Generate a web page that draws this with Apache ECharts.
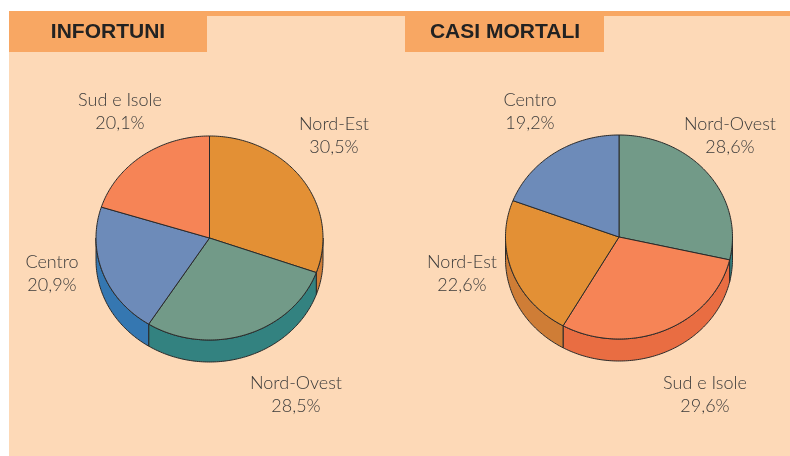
<!DOCTYPE html>
<html>
<head>
<meta charset="utf-8">
<script src="https://cdn.jsdelivr.net/npm/echarts@6/dist/echarts.min.js"></script>
<style>
  html, body { margin: 0; padding: 0; background: #fff; }
  #chart { width: 790px; height: 456px; }
</style>
</head>
<body>
<div id="chart"></div>
<script>
// data
var infortuniCats = ['Nord-Est', 'Nord-Ovest', 'Centro', 'Sud e Isole'];
var infortuniValues = [30.5, 28.5, 20.9, 20.1];

var mortaliCats = ['Nord-Ovest', 'Sud e Isole', 'Nord-Est', 'Centro'];
var mortaliValues = [28.6, 29.6, 22.6, 19.2];

// colours per region: top face, side
var topColor = {
    'Nord-Est': '#e39035',
    'Nord-Ovest': '#729a88',
    'Centro': '#6d8bb9',
    'Sud e Isole': '#f68456'
};
var sideColor = {
    'Nord-Est': '#cf7d36',
    'Nord-Ovest': '#338280',
    'Centro': '#3577b1',
    'Sud e Isole': '#e96d42'
};

// label anchors (layout)
var infortuniLabels = {
    'Nord-Est': [334, 136],
    'Nord-Ovest': [296, 395],
    'Centro': [52, 274],
    'Sud e Isole': [120, 112]
};
var mortaliLabels = {
    'Nord-Ovest': [730, 136],
    'Sud e Isole': [705, 395],
    'Nord-Est': [462, 274],
    'Centro': [530, 112]
};

var chart = echarts.init(document.getElementById('chart'));

var RX = 113.5, RY = 102, DEPTH = 22;
var STROKE = '#2a2a2a';
var labelFont = '"Lato", "Noto Sans", sans-serif';

function fmt(v) {
    return v.toFixed(1).replace('.', ',') + '%';
}

function pieSeries(cats, values, cx, cy, labels) {
    var total = values.reduce(function (a, b) { return a + b; }, 0);

    function pt(t, dy) {
        return [cx + RX * Math.sin(t), cy - RY * Math.cos(t) + (dy || 0)];
    }

    function arc(a, b, dy) {
        var pts = [];
        var n = Math.max(2, Math.ceil((b - a) / (Math.PI / 180)));
        for (var i = 0; i <= n; i++) {
            pts.push(pt(a + (b - a) * i / n, dy));
        }
        return pts;
    }

    return {
        type: 'custom',
        coordinateSystem: 'none',
        data: values.map(function (v, i) {
            return { value: [v], name: cats[i] };
        }),
        renderItem: function (params, api) {
            var idx = params.dataIndex;
            var before = 0;
            for (var i = 0; i < idx; i++) before += values[i];
            var t0 = before / total * Math.PI * 2;
            var t1 = (before + values[idx]) / total * Math.PI * 2;
            var name = cats[idx];
            var children = [];

            // visible side wall (front half of the ellipse)
            var a = Math.max(t0, Math.PI / 2);
            var b = Math.min(t1, Math.PI * 1.5);
            if (a < b) {
                var side = arc(a, b, 0).concat(arc(a, b, DEPTH).reverse());
                children.push({
                    type: 'polygon',
                    shape: { points: side },
                    style: { fill: sideColor[name], stroke: STROKE, lineWidth: 1 }
                });
            }

            // top face
            var top = [[cx, cy]].concat(arc(t0, t1, 0));
            children.push({
                type: 'polygon',
                shape: { points: top },
                style: { fill: topColor[name], stroke: STROKE, lineWidth: 1 }
            });

            var lp = labels[name];
            children.push({
                type: 'text',
                x: lp[0],
                y: lp[1],
                style: {
                    text: name + '\n' + fmt(api.value(0)),
                    fill: '#3a3a3a',
                    font: '300 18px ' + labelFont,
                    lineHeight: 23,
                    align: 'center',
                    verticalAlign: 'middle'
                }
            });

            return { type: 'group', children: children };
        }
    };
}

var option = {
    backgroundColor: '#ffffff',
    animation: false,
    graphic: [
        { type: 'rect', z: 0, shape: { x: 9, y: 11, width: 781, height: 445 }, style: { fill: '#fdd9b7' } },
        { type: 'rect', z: 1, shape: { x: 9, y: 11, width: 781, height: 5 }, style: { fill: '#f8a763' } },
        { type: 'rect', z: 1, shape: { x: 9, y: 11, width: 198, height: 41 }, style: { fill: '#f8a763' } },
        { type: 'rect', z: 1, shape: { x: 405, y: 11, width: 199, height: 41 }, style: { fill: '#f8a763' } },
        {
            type: 'text', z: 2, x: 108, y: 32,
            style: { text: 'INFORTUNI', fill: '#222', font: 'bold 21px "Liberation Sans", Arial, sans-serif', align: 'center', verticalAlign: 'middle' }
        },
        {
            type: 'text', z: 2, x: 505, y: 32,
            style: { text: 'CASI MORTALI', fill: '#222', font: 'bold 21px "Liberation Sans", Arial, sans-serif', align: 'center', verticalAlign: 'middle' }
        }
    ],
    series: [
        pieSeries(infortuniCats, infortuniValues, 209.5, 238, infortuniLabels),
        pieSeries(mortaliCats, mortaliValues, 619, 237, mortaliLabels)
    ]
};

chart.setOption(option);
</script>
</body>
</html>
